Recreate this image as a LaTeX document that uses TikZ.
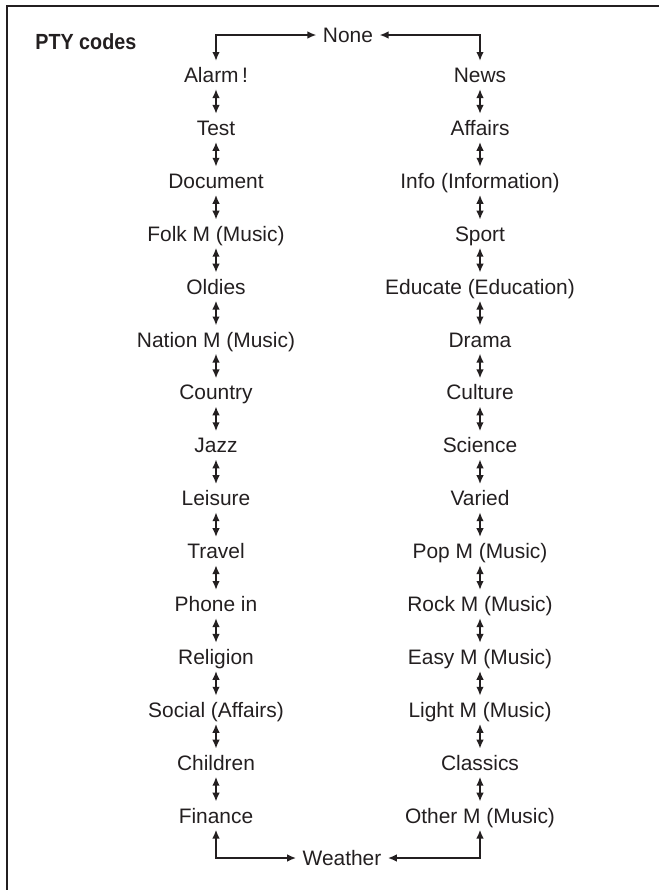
\documentclass[tikz,border=0pt]{standalone}
\definecolor{ptyink}{RGB}{35,31,32}
\usepackage{fontspec}
\setmainfont{Liberation Sans}
\newfontfamily\ptybold[FakeStretch=0.9]{Liberation Sans Bold}
\usepackage{tikz}
\usetikzlibrary{arrows.meta}

\begin{document}
\begin{tikzpicture}[x=0.5bp,y=-0.5bp,
		code/.style={font=\fontsize{10.5}{12}\selectfont, text=ptyink,
			inner sep=0pt, text height=7.5bp, text depth=0pt, outer sep=3.25bp},
		arrow/.style={{Latex[length=4.5bp,width=3.8bp]}-{Latex[length=4.5bp,width=3.8bp]},
			line width=1bp, ptyink}
	]
		\useasboundingbox (0,0) rectangle (659,890);
		\draw[line width=1.35bp, ptyink] (7,890) -- (7,6) -- (659,6);
		\node[anchor=west, inner sep=0pt, font=\ptybold\fontsize{11}{12}\selectfont, text=ptyink] (title) at (35,42) {PTY codes};
		% top and bottom
		\node[code] (none) at (348,35) {None};
		\node[code] (weather) at (342,858) {Weather};
		% left column
		\node[code] (alarm) at (216,75) {Alarm\,!};
		\node[code] (test) at (216,127.9) {Test};
		\node[code] (document) at (216,180.8) {Document};
		\node[code] (folk) at (216,233.7) {Folk M (Music)};
		\node[code] (oldies) at (216,286.6) {Oldies};
		\node[code] (nation) at (216,339.5) {Nation M (Music)};
		\node[code] (country) at (216,392.4) {Country};
		\node[code] (jazz) at (216,445.3) {Jazz};
		\node[code] (leisure) at (216,498.2) {Leisure};
		\node[code] (travel) at (216,551.1) {Travel};
		\node[code] (phone) at (216,604) {Phone in};
		\node[code] (religion) at (216,656.9) {Religion};
		\node[code] (social) at (216,709.8) {Social (Affairs)};
		\node[code] (children) at (216,762.7) {Children};
		\node[code] (finance) at (216,815.6) {Finance};
		% right column
		\node[code] (news) at (480,75) {News};
		\node[code] (affairs) at (480,127.9) {Affairs};
		\node[code] (info) at (480,180.8) {Info (Information)};
		\node[code] (sport) at (480,233.7) {Sport};
		\node[code] (educate) at (480,286.6) {Educate (Education)};
		\node[code] (drama) at (480,339.5) {Drama};
		\node[code] (culture) at (480,392.4) {Culture};
		\node[code] (science) at (480,445.3) {Science};
		\node[code] (varied) at (480,498.2) {Varied};
		\node[code] (pop) at (480,551.1) {Pop M (Music)};
		\node[code] (rock) at (480,604) {Rock M (Music)};
		\node[code] (easy) at (480,656.9) {Easy M (Music)};
		\node[code] (light) at (480,709.8) {Light M (Music)};
		\node[code] (classics) at (480,762.7) {Classics};
		\node[code] (other) at (480,815.6) {Other M (Music)};
		% loop ends
		\draw[arrow] (alarm.north) |- (none.west);
		\draw[arrow] (none.east) -| (news.north);
		\draw[arrow] (finance.south) |- (weather.west);
		\draw[arrow] (weather.east) -| (other.south);
		% left steps
		\draw[arrow] (alarm.south) -- (test.north);
		\draw[arrow] (test.south) -- (document.north);
		\draw[arrow] (document.south) -- (folk.north);
		\draw[arrow] (folk.south) -- (oldies.north);
		\draw[arrow] (oldies.south) -- (nation.north);
		\draw[arrow] (nation.south) -- (country.north);
		\draw[arrow] (country.south) -- (jazz.north);
		\draw[arrow] (jazz.south) -- (leisure.north);
		\draw[arrow] (leisure.south) -- (travel.north);
		\draw[arrow] (travel.south) -- (phone.north);
		\draw[arrow] (phone.south) -- (religion.north);
		\draw[arrow] (religion.south) -- (social.north);
		\draw[arrow] (social.south) -- (children.north);
		\draw[arrow] (children.south) -- (finance.north);
		% right steps
		\draw[arrow] (news.south) -- (affairs.north);
		\draw[arrow] (affairs.south) -- (info.north);
		\draw[arrow] (info.south) -- (sport.north);
		\draw[arrow] (sport.south) -- (educate.north);
		\draw[arrow] (educate.south) -- (drama.north);
		\draw[arrow] (drama.south) -- (culture.north);
		\draw[arrow] (culture.south) -- (science.north);
		\draw[arrow] (science.south) -- (varied.north);
		\draw[arrow] (varied.south) -- (pop.north);
		\draw[arrow] (pop.south) -- (rock.north);
		\draw[arrow] (rock.south) -- (easy.north);
		\draw[arrow] (easy.south) -- (light.north);
		\draw[arrow] (light.south) -- (classics.north);
		\draw[arrow] (classics.south) -- (other.north);
	\end{tikzpicture}
\end{document}
